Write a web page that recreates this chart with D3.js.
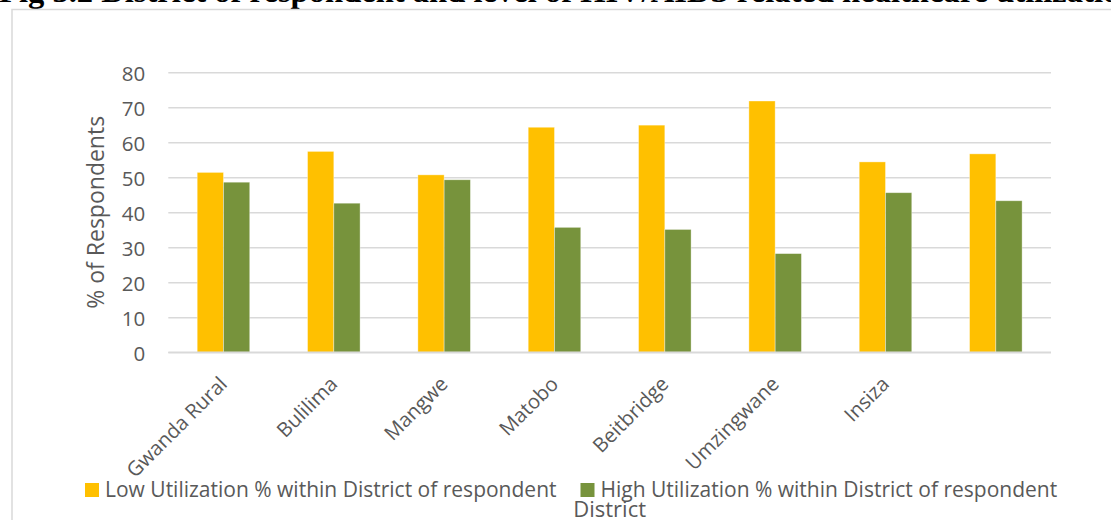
<!DOCTYPE html>
<html>
<head>
<meta charset="utf-8">
<script src="https://cdn.jsdelivr.net/npm/d3@7"></script>
<style>
  html, body { margin: 0; padding: 0; background: #fff; overflow: hidden; }
  svg { display: block; }
</style>
</head>
<body>
<svg id="chart" width="1111" height="520"></svg>
<script>
// District-level shares of respondents by utilization level
const districts = ["Gwanda Rural", "Bulilima", "Mangwe", "Matobo", "Beitbridge", "Umzingwane", "Insiza", ""];
const lowUtilization = [51.4, 57.4, 50.7, 64.3, 64.9, 71.8, 54.4, 56.7];
const highUtilization = [48.6, 42.6, 49.3, 35.7, 35.1, 28.2, 45.6, 43.3];
const seriesNames = [
  "Low Utilization % within District of respondent",
  "High Utilization % within District of respondent"
];
const seriesColors = ["#FFC000", "#77933C"];
const yTicks = [0, 10, 20, 30, 40, 50, 60, 70, 80];
const titleText = "Fig 3.2 District of respondent and level of HIV/AIDS related healthcare utilization";

const svg = d3.select("#chart");
const font = "'Open Sans', 'Noto Sans', sans-serif";
const textColor = "#595959";
const gridColor = "#d9d9d9";

// Figure caption above the chart frame
svg.append("text")
  .attr("x", -1)
  .attr("y", 2)
  .attr("font-family", "'Liberation Serif', 'Times New Roman', serif")
  .attr("font-weight", "bold")
  .attr("font-size", 32.6)
  .attr("fill", "#000")
  .text(titleText);

// Chart frame
svg.append("rect")
  .attr("x", 12).attr("y", 9.5)
  .attr("width", 1120).attr("height", 530)
  .attr("fill", "#fff")
  .attr("stroke", gridColor)
  .attr("stroke-width", 1.5);

const plot = { left: 168.3, right: 1051, top: 72.3, bottom: 352.3 };

const rows = districts.map((d, i) => ({ district: d, values: [lowUtilization[i], highUtilization[i]] }));

const x0 = d3.scaleBand()
  .domain(d3.range(districts.length))
  .range([plot.left, plot.right])
  .paddingInner(0).paddingOuter(0);

const x1 = d3.scaleBand()
  .domain([0, 1])
  .range([0, x0.bandwidth()])
  .paddingInner(0)
  .paddingOuter(1.1);

const y = d3.scaleLinear().domain([0, 80]).range([plot.bottom, plot.top]);

// Horizontal gridlines with value labels
const yAxis = d3.axisLeft(y).tickValues(yTicks).tickSize(-(plot.right - plot.left)).tickPadding(23);
const gy = svg.append("g")
  .attr("transform", `translate(${plot.left},0)`)
  .call(yAxis);
gy.select(".domain").remove();
gy.selectAll(".tick line").attr("stroke", gridColor).attr("stroke-width", 1.5);
gy.selectAll(".tick text")
  .attr("font-family", font)
  .attr("font-size", 20.5)
  .attr("fill", textColor)
  .attr("dy", "0.38em");

// Bars
const groups = svg.append("g").selectAll("g")
  .data(rows)
  .join("g")
  .attr("transform", (d, i) => `translate(${x0(i)},0)`);

groups.selectAll("rect")
  .data(d => d.values.map((v, k) => ({ k, v })))
  .join("rect")
  .attr("x", d => x1(d.k))
  .attr("y", d => y(d.v))
  .attr("width", x1.bandwidth())
  .attr("height", d => y(0) - y(d.v))
  .attr("fill", d => seriesColors[d.k])
  .attr("stroke", "#ffffff")
  .attr("stroke-opacity", 0.45)
  .attr("stroke-width", 0.8);

// Category axis: baseline plus rotated labels
svg.append("line")
  .attr("x1", plot.left).attr("x2", plot.right)
  .attr("y1", y(0)).attr("y2", y(0))
  .attr("stroke", gridColor).attr("stroke-width", 1.5);

svg.append("g").selectAll("text")
  .data(districts)
  .join("text")
  .attr("transform", (d, i) => `translate(${x0(i) + x0.bandwidth() / 2 + 5},${plot.bottom + 33}) rotate(-45)`)
  .attr("text-anchor", "end")
  .attr("font-family", font)
  .attr("font-size", 20.2)
  .attr("fill", textColor)
  .text(d => d);

// Axis titles
svg.append("text")
  .attr("transform", `translate(104,${(plot.top + plot.bottom) / 2}) rotate(-90)`)
  .attr("text-anchor", "middle")
  .attr("font-family", font)
  .attr("font-size", 23)
  .attr("fill", textColor)
  .text("% of Respondents");

svg.append("text")
  .attr("x", (plot.left + plot.right) / 2)
  .attr("y", 517)
  .attr("text-anchor", "middle")
  .attr("font-family", font)
  .attr("font-size", 22)
  .attr("fill", textColor)
  .text("District");

// Legend
const legend = svg.append("g");
let lx = 85;
seriesNames.forEach((name, k) => {
  legend.append("rect")
    .attr("x", lx).attr("y", 483)
    .attr("width", 14).attr("height", 14)
    .attr("fill", seriesColors[k]);
  const t = legend.append("text")
    .attr("x", lx + 20)
    .attr("y", 497)
    .attr("font-family", font)
    .attr("font-size", 21)
    .attr("fill", textColor)
    .text(name);
  lx += 20 + t.node().getComputedTextLength() + 24;
});
</script>
</body>
</html>
